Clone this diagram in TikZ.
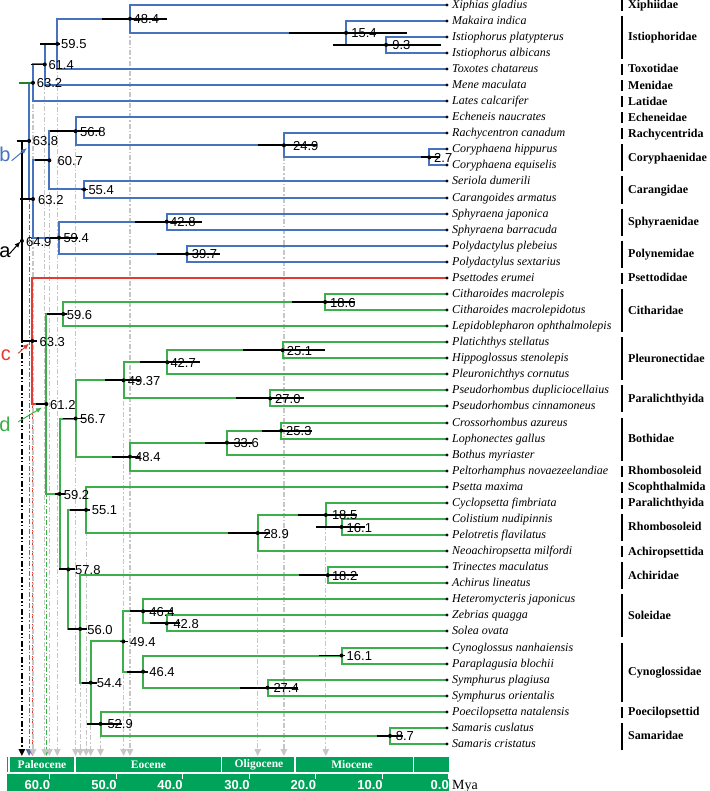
\documentclass[tikz,border=0pt]{standalone}
\usepackage{fontspec}
\setmainfont{Liberation Serif}
\newfontfamily\lsans{Liberation Sans}
\usetikzlibrary{arrows.meta}
\definecolor{treeblue}{RGB}{70,114,190}
\definecolor{treegreen}{RGB}{60,175,75}
\definecolor{treered}{RGB}{225,60,50}
\definecolor{bandgreen}{RGB}{0,163,90}
\definecolor{dropgray}{RGB}{198,198,198}
\definecolor{cigreen}{RGB}{40,125,45}
\tikzset{
  br/.style={line width=2pt},
  bl/.style={br, draw=treeblue},
  gr/.style={br, draw=treegreen},
  rd/.style={br, draw=treered},
  bk/.style={br, draw=black},
  ci/.style={line width=1.9pt, draw=black},
  nlab/.style={anchor=west, inner sep=0pt, font=\lsans\fontsize{13}{13}\selectfont},
  sp/.style={anchor=base west, inner sep=0pt, font=\itshape\fontsize{12}{12}\selectfont},
  fam/.style={anchor=base west, inner sep=0pt, font=\bfseries\fontsize{12}{12}\selectfont},
  famline/.style={line width=1.5pt, draw=black},
  dropline/.style={line width=1.2pt, dash pattern=on 5pt off 2pt on 1.5pt off 2pt, -{Triangle[width=6.5pt,length=7pt]}},
  dropline2/.style={line width=1.2pt, dash pattern=on 6pt off 2.5pt on 1.5pt off 2pt on 1.5pt off 2.5pt, -{Triangle[width=6.5pt,length=7pt]}},
  epoch/.style={text=white, inner sep=0pt, font=\bfseries\fontsize{11.5}{11.5}\selectfont},
  axnum/.style={text=white, anchor=east, inner sep=0pt, font=\lsans\bfseries\fontsize{13}{13}\selectfont},
  letter/.style={anchor=base, inner sep=0pt, font=\lsans\fontsize{20}{20}\selectfont},
  pointer/.style={line width=1pt, -{Latex[length=6pt,width=5pt]}},
}
\begin{document}
\begin{tikzpicture}[x=1pt,y=-1pt]
\useasboundingbox (0,0) rectangle (709,791);
\fill[white] (0,0) rectangle (709,791);

% ---------- leaves ----------
\foreach \i/\s in {1/Xiphias gladius,2/Makaira indica,3/Istiophorus platypterus,4/Istiophorus albicans,5/Toxotes chatareus,6/Mene maculata,7/Lates calcarifer,8/Echeneis naucrates,9/Rachycentron canadum,10/Coryphaena hippurus,11/Coryphaena equiselis,12/Seriola dumerili,13/Carangoides armatus,14/Sphyraena japonica,15/Sphyraena barracuda,16/Polydactylus plebeius,17/Polydactylus sextarius,18/Psettodes erumei,19/Citharoides macrolepis,20/Citharoides macrolepidotus,21/Lepidoblepharon ophthalmolepis,22/Platichthys stellatus,23/Hippoglossus stenolepis,24/Pleuronichthys cornutus,25/Pseudorhombus dupliciocellaius,26/Pseudorhombus cinnamoneus,27/Crossorhombus azureus,28/Lophonectes gallus,29/Bothus myriaster,30/Peltorhamphus novaezeelandiae,31/Psetta maxima,32/Cyclopsetta fimbriata,33/Colistium nudipinnis,34/Pelotretis flavilatus,35/Neoachiropsetta milfordi,36/Trinectes maculatus,37/Achirus lineatus,38/Heteromycteris japonicus,39/Zebrias quagga,40/Solea ovata,41/Cynoglossus nanhaiensis,42/Paraplagusia blochii,43/Symphurus plagiusa,44/Symphurus orientalis,45/Poecilopsetta natalensis,46/Samaris cuslatus,47/Samaris cristatus}{
  \pgfmathsetmacro\yy{round(4.7+16.07*(\i-1))}
  \pgfmathsetmacro\yb{\yy+3.8}
  \coordinate (L\i) at (447,\yy);
  \node[sp] (s\i) at (452,\yb) {\s};
}

% ---------- internal nodes ----------
\foreach \n/\x/\y in {n93/386.1/44.88, n154/346.1/32.82, n484a/130.0/18.76, n595/57.3/43.87, n614/44.8/64.46, n632a/33.0/82.79,
  n27/429.3/157.37, n249/283.9/145.31, n568/75.5/131.25, n554/84.1/189.5, n607/49.4/160.38,
  n428a/166.7/221.65, n397/187.0/253.79, n594/59.0/237.72, n632b/33.0/199.05, n638/29.1/140.92,
  n649/21.9/240.94, n633/32.4/340.95, n612/46.4/404.0, n596/63.3/314.05, n186/325.2/302.0,
  n251/282.6/350.2, n427/167.3/362.26, n270/270.2/398.42, n4937/123.6/380.34,
  n253/281.3/430.56, n336/226.9/442.61, n484b/130.0/456.67, n567/75.6/418.5,
  n161a/341.5/526.98, n185/325.8/514.92, n289/257.7/533.0, n551/86.1/509.9,
  n182/327.8/575.19, n428b/166.7/623.4, n464a/143.1/611.34, n161b/341.5/655.54,
  n274/267.5/687.68, n464b/143.1/671.61, n494/123.4/641.48, n87/390.0/735.89,
  n529/100.5/723.84, n544/90.7/682.66, n560/80.2/628.93, n578/68.4/569.42, n592/59.6/493.96}
  {\coordinate (\n) at (\x,\y);}

% ---------- drop lines to the time axis ----------
\coordinate (en649) at (n649 |- 0,756);
\draw[dropline2, draw=black] (n649) -- (en649);
\coordinate (en638) at (n638 |- 0,756);
\draw[dropline, draw=treeblue] (n638) -- (en638);
\coordinate (en633) at (n633 |- 0,756);
\draw[dropline, draw=treered] (n633) -- (en633);
\coordinate (en612) at (n612 |- 0,756);
\draw[dropline, draw=treegreen] (n612) -- (en612);
\foreach \n in {n632a,n614,n595,n607,n568,n484a,n249,n560,n551,n544,n529,n4937,n289,n185}{
  \coordinate (e\n) at (\n |- 0,756);
  \draw[dropline, draw=dropgray] (\n) -- (e\n);
}

% ---------- branches ----------
\foreach \p/\c in {n93/L3,n93/L4,n154/L2,n154/n93,n484a/L1,n484a/n154,n595/n484a,n595/L5,n614/n595,n614/L6,n632a/n614,n632a/L7,
  n27/L10,n27/L11,n249/L9,n249/n27,n568/L8,n568/n249,n554/L12,n554/L13,n607/n568,n607/n554,
  n428a/L14,n428a/L15,n397/L16,n397/L17,n594/n428a,n594/n397,n632b/n607,n632b/n594,n638/n632a,n638/n632b}
  {\draw[bl] (\p) |- (\c);}
\foreach \p/\c in {n649/n638,n649/n633}
  {\draw[bk] (\p) |- (\c);}
\foreach \p/\c in {n633/L18,n633/n612}
  {\draw[rd] (\p) |- (\c);}
\foreach \p/\c in {n612/n596,n612/n592,n596/n186,n596/L21,n186/L19,n186/L20,
  n592/n567,n592/n578,n567/n4937,n567/n484b,n4937/n427,n4937/n270,n427/n251,n427/L24,n251/L22,n251/L23,n270/L25,n270/L26,
  n484b/n336,n484b/L30,n336/n253,n336/L29,n253/L27,n253/L28,
  n578/n551,n578/n560,n551/L31,n551/n289,n289/n185,n289/L35,n185/L32,n185/n161a,n161a/L33,n161a/L34,
  n560/n182,n560/n544,n182/L36,n182/L37,n544/n494,n544/n529,n494/n464a,n494/n464b,n464a/L38,n464a/n428b,n428b/L39,n428b/L40,
  n464b/n161b,n464b/n274,n161b/L41,n161b/L42,n274/L43,n274/L44,n529/L45,n529/n87,n87/L46,n87/L47}
  {\draw[gr] (\p) |- (\c);}

% ---------- 95% intervals ----------
\foreach \n/\a/\b in {n484a/101.7/166.7, n595/40/60, n614/30.5/46, n154/289.3/407.3, n93/333.3/440.7,
  n638/16.5/30, n568/50/100, n607/35/50, n554/81/88, n632b/20/33.3, n594/50/78, n428a/135/201.7,
  n397/156.7/220, n27/420.7/440, n249/258.3/316.7, n633/20.7/36.7, n612/36/47, n596/46.7/66.7,
  n186/291.7/355, n251/243.3/325, n427/140/200, n4937/105/140, n270/236/304, n567/63/85,
  n484b/111.7/140, n336/205/252, n253/261.7/311.7, n592/55/65, n551/70/90, n185/298/356.7,
  n161a/316/365, n289/228/270, n182/299/358.3, n578/59/75, n560/68.3/87.3, n464a/130/173.3,
  n428b/150/180, n494/120/128.3, n464b/126.7/148.3, n161b/319/345, n274/240/298.3,
  n544/81.7/96.7, n529/87.3/121.7, n87/376.7/403.3}
  {\draw[ci] (\a,0 |- \n) -- (\b,0 |- \n);}
\draw[line width=2.2pt, draw=cigreen] (19,0 |- n632a) -- (33,0 |- n632a);

% ---------- node dots ----------
\foreach \n in {n93,n154,n484a,n595,n614,n632a,n27,n249,n568,n554,n607,n428a,n397,n594,n632b,n638,
  n649,n633,n612,n596,n186,n251,n427,n270,n4937,n253,n336,n484b,n567,n161a,n185,n289,n551,
  n182,n428b,n464a,n161b,n274,n464b,n494,n87,n529,n544,n560,n578,n592}
  {\fill[black] (\n) circle (2pt);}
\foreach \i in {1,...,47} {\fill[black] (L\i) circle (1.7pt);}

% ---------- node ages ----------
\foreach \n/\t/\o in {n93/9.3/6, n154/15.4/5, n484a/48.4/3.5, n595/59.5/3.7, n614/61.4/3.5, n632a/63.2/3.7,
  n27/2.7/4.7, n249/24.9/9, n568/56.8/4.5, n554/55.4/4.2, n607/60.7/8, n428a/42.8/3.3, n397/39.7/4.7,
  n594/59.4/4.3, n632b/63.2/5, n638/63.8/3.6, n649/64.9/4, n633/63.3/7, n612/61.2/3.6, n596/59.6/3.4,
  n186/18.6/4.8, n251/25.1/4, n427/42.7/3, n270/27.0/4.8, n4937/49.37/4, n253/25.3/4.7, n336/33.6/6.4,
  n484b/48.4/5, n567/56.7/4.4, n161a/16.1/5, n185/18.5/6, n289/28.9/5.6, n551/55.1/5.6, n182/18.2/4,
  n428b/42.8/6.6, n464a/46.4/6, n161b/16.1/5, n274/27.4/5.8, n464b/46.4/6, n494/49.4/6.6, n87/8.7/5.7,
  n529/52.9/6.8, n544/54.4/6, n560/56.0/7, n578/57.8/6.6, n592/59.2/4}
  {\node[nlab, xshift=\o pt, yshift=-0.6pt] (t\n) at (\n) {\t};}

% ---------- family labels ----------
\foreach \a/\b/\f in {1/1/Xiphiidae,2/4/Istiophoridae,5/5/Toxotidae,6/6/Menidae,7/7/Latidae,8/8/Echeneidae,
  9/9/Rachycentrida,10/11/Coryphaenidae,12/13/Carangidae,14/15/Sphyraenidae,16/17/Polynemidae,
  18/18/Psettodidae,19/21/Citharidae,22/24/Pleuronectidae,25/26/Paralichthyida,27/29/Bothidae,
  30/30/Rhombosoleid,31/31/Scophthalmida,32/32/Paralichthyida,33/34/Rhombosoleid,35/35/Achiropsettida,
  36/37/Achiridae,38/40/Soleidae,41/44/Cynoglossidae,45/45/Poecilopsettid,46/47/Samaridae}{
  \pgfmathsetmacro\ya{4.7+16.07*(\a-1)-5}
  \pgfmathsetmacro\yz{4.7+16.07*(\b-1)+6}
  \pgfmathsetmacro\ym{4.7+16.07*((\a+\b)/2-1)+4}
  \draw[famline] (622,\ya) -- (622,\yz);
  \node[fam] (f\a) at (628,\ym) {\f};
}

% ---------- time axis ----------
\fill[bandgreen] (7,757) rectangle (448.5,772);
\fill[bandgreen] (7,773.5) rectangle (448.5,791);
\foreach \x in {9,75,221.7,295,413.3} {\draw[white, line width=1.2pt] (\x,757) -- (\x,772);}
\node[epoch] (ep1) at (42,765) {Paleocene};
\node[epoch] (ep2) at (148.5,765) {Eocene};
\node[epoch] (ep3) at (259,765) {Oligocene};
\node[epoch] (ep4) at (352,765) {Miocene};
\foreach \x/\v in {49.7/60.0,116.3/50.0,182.3/40.0,249.3/30.0,315.7/20.0,382.3/10.0,448.5/0.0}{
  \draw[white, line width=1pt] (\x,773.5) -- (\x,778.5);
  \node[axnum] at (\x+0.5,785) {\v};
}
\node[anchor=base west, inner sep=0pt, font=\fontsize{14}{14}\selectfont] (mya) at (452,789) {Mya};

% ---------- pointers a-d ----------
\node[letter] (la) at (5,258) {a};
\node[letter, text=treeblue] (lb) at (5,162) {b};
\node[letter, text=treered] (lc) at (6,360) {c};
\node[letter, text=treegreen] (ld) at (5,431) {d};
\coordinate (pa) at (9.3,254);
\coordinate (pb) at (11.7,160.7);
\coordinate (pc) at (18.3,353.3);
\coordinate (pd) at (18.3,421.7);
\coordinate (qa) at (20.5,241.5);
\coordinate (qb) at (27,148);
\coordinate (qc) at (29,343.5);
\coordinate (qd) at (42,407.5);
\draw[pointer, black] (pa) -- (qa);
\draw[pointer, treeblue] (pb) -- (qb);
\draw[pointer, treered] (pc) -- (qc);
\draw[pointer, treegreen] (pd) -- (qd);
\end{tikzpicture}
\end{document}
